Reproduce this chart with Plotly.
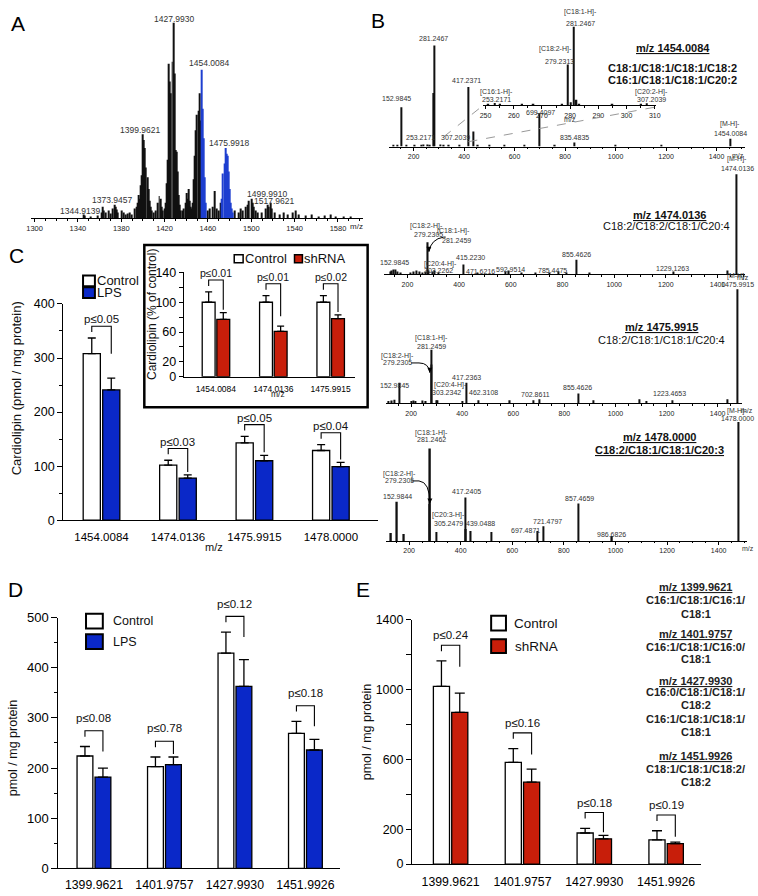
import plotly.graph_objects as go

W, H = 758, 896
FONT = "Liberation Sans, Arial, Helvetica, sans-serif"
BLUE = "#0a28c8"
BLUE_A = "#1e3fd0"
RED = "#c81e0a"

# ======================= DATA =======================
# Panel A: full-scan spectrum (relative intensity, % of base peak)
A_black_mz = [1344.9, 1346.0, 1352.0, 1358.0, 1362.0, 1363.0, 1364.0, 1366.0, 1368.0, 1370.0,
              1372.0, 1373.95, 1375.0, 1376.0, 1377.0, 1380.0, 1382.0, 1384.0, 1386.0, 1388.0,
              1390.0, 1392.0, 1393.9, 1394.9, 1395.9, 1396.9, 1397.9, 1398.9, 1399.96, 1400.96,
              1401.97, 1402.97, 1403.97, 1404.97, 1405.97, 1407.0, 1408.0, 1410.0, 1412.0, 1414.0,
              1415.0, 1416.0, 1417.0, 1418.0, 1419.9, 1420.9, 1421.9, 1422.9, 1423.96, 1424.96,
              1425.97, 1426.98, 1427.99, 1428.99, 1429.99, 1430.99, 1431.99, 1433.0, 1434.0, 1435.0,
              1437.0, 1438.0, 1439.0, 1440.0, 1441.0, 1442.0, 1443.0, 1444.0, 1445.0, 1446.0,
              1447.0, 1448.0, 1449.0, 1450.0, 1451.0, 1452.0, 1453.0, 1460.0, 1462.0, 1464.0,
              1466.5, 1468.0, 1470.0, 1472.0, 1485.0, 1488.0, 1490.0, 1492.0, 1495.0, 1497.0,
              1498.0, 1499.99, 1501.0, 1502.0, 1504.0, 1506.0, 1510.0, 1513.0, 1515.0, 1516.0,
              1517.96, 1519.0, 1522.0, 1526.0, 1530.0, 1534.0, 1538.0, 1541.0, 1544.0, 1550.0,
              1556.0, 1562.0, 1568.0, 1573.0, 1578.0, 1585.0, 1592.0]
A_black_int = [2, 1.5, 1, 1.5, 3, 6, 4, 3, 4, 2.5,
               5, 7, 6, 4.5, 3, 4, 3, 2, 2.5, 3,
               2, 5, 6, 8, 12, 10, 17, 22, 43, 40,
               36, 26, 21, 15, 9, 6, 4, 3, 4, 8,
               11.5, 10, 6, 4, 5, 8, 18, 30, 79, 70,
               64, 80, 100, 74, 35, 34, 24, 12, 7, 4,
               4, 5, 8, 13, 10, 15, 9, 6, 5, 8,
               20, 32, 45, 53, 55, 64, 50, 4, 5, 6,
               14, 5, 4, 8, 4, 3, 5, 4, 6, 7,
               9, 10, 8, 6, 4, 3, 3, 5, 7, 6,
               8, 5, 3, 2, 3, 2, 3, 4, 2, 1.5,
               2, 1, 1.5, 2, 1, 1, 1]
A_blue_mz = [1454.01, 1455.0, 1456.0, 1457.0, 1458.0, 1473.0, 1474.0, 1475.0, 1475.99, 1477.0,
             1478.0, 1479.0, 1480.0, 1481.0, 1482.0, 1483.0]
A_blue_int = [76, 56, 41, 21, 8, 10, 23, 28, 36, 33,
              32, 24, 15, 8, 5, 3]
A_ticks = [1300, 1340, 1380, 1420, 1460, 1500, 1540, 1580]

# Panel B: MS/MS spectra (relative intensity, %)
B_ticks = [200, 400, 600, 800, 1000, 1200, 1400]
B1_mz = [120, 135, 152.98, 170, 205, 230, 240, 253.22, 265, 279.23,
         281.25, 307.20, 320, 340, 380, 417.24, 436.8, 455, 500, 560,
         640, 699.41, 760, 835.48, 1000, 1180, 1454.01]
B1_int = [1, 1.5, 39, 1, 1, 1.5, 2, 2, 1.5, 53,
          100, 2, 1.5, 1, 1, 59, 15, 1, 1, 1,
          1, 33, 1, 4, 1, 1.5, 7.8]
B1i_mz = [251.0, 253.22, 255.2, 263.0, 267.0, 277.2, 279.23, 280.23, 281.25, 282.25,
          283.26, 295.0, 305.2, 307.20]
B1i_int = [1, 3, 1.5, 1, 1, 1.5, 52, 4, 100, 7,
           2, 1, 1, 2.5]
B1i_ticks = [250, 260, 270, 280, 290, 300, 310]
B2_mz = [135, 140, 145, 152.98, 160, 175, 212, 225, 235, 245,
         258, 271, 279.23, 281.25, 298, 303.23, 320, 415.22, 471.62, 580,
         592.95, 643, 696, 748, 785.45, 815, 855.46, 906, 1229.13, 1437,
         1474.01]
B2_int = [3, 4, 5, 5, 3, 2, 2, 3, 4, 3,
          2, 3, 32, 4, 3, 4, 2, 10, 2, 3,
          4, 2, 2, 2, 3, 2, 14.7, 2, 3, 4,
          100]
B3_mz = [112, 125, 134, 152.98, 200, 210, 218, 243, 258, 279.23,
         281.25, 300, 303.23, 400, 417.24, 462.31, 587, 680, 702.86, 855.46,
         914, 1094, 1120, 1223.47, 1437, 1475.99]
B3_int = [2, 2.5, 3, 18, 2, 2.5, 2, 2.5, 2, 34,
          47, 2.6, 2.6, 2, 18, 2.6, 2.6, 2.6, 3.4, 8.6,
          2.6, 3.4, 2, 2.6, 3.4, 100]
B4_mz = [130, 152.98, 180, 279.23, 281.25, 305.25, 417.24, 420.3, 439.05, 520,
         697.49, 721.48, 857.47, 986.68, 1478.0]
B4_int = [6.6, 33, 5.8, 31, 77.7, 7.4, 36.4, 10, 8.3, 7.4,
          8.3, 12.4, 31.4, 4.1, 100]

# Panel C: cardiolipin (pmol / mg protein), Control vs LPS
C_cats = ["1454.0084", "1474.0136", "1475.9915", "1478.0000"]
C_ctrl = [308, 102, 143, 129]
C_ctrl_sem = [29, 9, 12, 11]
C_lps = [241, 78, 110, 99]
C_lps_sem = [22, 6, 10, 8]
C_p = ["p≤0.05", "p≤0.03", "p≤0.05", "p≤0.04"]

# Panel C inset: % of control, Control vs shRNA
Ci_cats = ["1454.0084", "1474.0136", "1475.9915"]
Ci_ctrl = [100, 100, 100]
Ci_ctrl_sem = [14, 9, 9]
Ci_sh = [77, 61, 78]
Ci_sh_sem = [9, 7, 5]
Ci_p = ["p≤0.01", "p≤0.01", "p≤0.02"]

# Panel D: Control vs LPS
D_cats = ["1399.9621", "1401.9757", "1427.9930", "1451.9926"]
D_ctrl = [224, 203, 429, 269]
D_ctrl_sem = [19, 19, 42, 24]
D_lps = [182, 207, 363, 236]
D_lps_sem = [18, 15, 53, 21]
D_p = ["p≤0.08", "p≤0.78", "p≤0.12", "p≤0.18"]

# Panel E: Control vs shRNA
E_cats = ["1399.9621", "1401.9757", "1427.9930", "1451.9926"]
E_ctrl = [1017, 582, 178, 139]
E_ctrl_sem = [146, 79, 27, 52]
E_sh = [869, 469, 145, 117]
E_sh_sem = [110, 75, 20, 9]
E_p = ["p≤0.24", "p≤0.16", "p≤0.18", "p≤0.19"]

# ======================= HELPERS =======================
BARGAP, GROUPGAP = 0.49, 0.12
layout = dict(width=W, height=H, margin=dict(l=0, r=0, t=0, b=0),
              paper_bgcolor="white", plot_bgcolor="white", showlegend=False,
              barmode="group", bargap=BARGAP, bargroupgap=GROUPGAP,
              font=dict(family=FONT, color="black"))
traces, annotations, shapes = [], [], []


def xd(a, b):
    return [a / W, b / W]


def yd(top, bot):
    return [1 - bot / H, 1 - top / H]


def px(x):
    return x / W


def py(y):
    return 1 - y / H


def text(x, y, s, size, bold=False, xanchor="center", angle=0, color="#111"):
    if bold:
        s = "<b>" + s + "</b>"
    annotations.append(dict(x=px(x), y=py(y), xref="paper", yref="paper", text=s,
                            showarrow=False, xanchor=xanchor, yanchor="middle",
                            textangle=angle, borderpad=0,
                            font=dict(size=size, family=FONT, color=color)))


def sfx(n):
    return "" if n == 1 else str(n)


def spec_axes(n, xdom, ydom, xr, yr, tickvals, tsize, minor):
    s = sfx(n)
    layout["xaxis" + s] = dict(domain=xd(*xdom), range=xr, anchor="y" + s, showline=True,
                               linecolor="black", linewidth=1, ticks="outside", ticklen=3,
                               tickwidth=1, tickcolor="black", tickmode="array", tickvals=tickvals,
                               tickfont=dict(size=tsize, color="#222"), showgrid=False,
                               zeroline=False, fixedrange=True,
                               minor=dict(ticks="outside", dtick=minor, tick0=0, ticklen=1.5,
                                          tickcolor="black", showgrid=False))
    layout["yaxis" + s] = dict(domain=yd(*ydom), range=yr, anchor="x" + s, visible=False,
                               fixedrange=True)


def spec_trace(n, mz, inten, width, color):
    s = sfx(n)
    traces.append(go.Bar(x=mz, y=inten, width=width, marker=dict(color=color, line=dict(width=0)),
                         xaxis="x" + s, yaxis="y" + s, hoverinfo="skip", showlegend=False))


AX = {}


def bar_axes(n, xdom, ydom, xr, yr, xfont, yfont, standoff, ytickvals=None, yticktext=None,
             dtick=None, minor=None, ticklen=5):
    s = str(n)
    AX[n] = (xdom, ydom, xr, yr)
    layout["xaxis" + s] = dict(domain=xd(*xdom), range=xr, type="category", anchor="y" + s,
                               showline=True, linecolor="black", linewidth=1.2, ticks="",
                               tickfont=dict(size=xfont, color="black"),
                               ticklabelstandoff=standoff, showgrid=False, zeroline=False,
                               fixedrange=True)
    ya = dict(domain=yd(*ydom), range=yr, anchor="x" + s, showline=True, linecolor="black",
              linewidth=1.2, ticks="outside", ticklen=ticklen, tickwidth=1.2, tickcolor="black",
              tickfont=dict(size=yfont, color="black"), showgrid=False, zeroline=False,
              fixedrange=True)
    if ytickvals is not None:
        ya.update(tickmode="array", tickvals=ytickvals, ticktext=yticktext)
    else:
        ya.update(tickmode="linear", tick0=0, dtick=dtick)
    if minor:
        ya["minor"] = dict(ticks="outside", dtick=minor, tick0=0, ticklen=3, tickwidth=1.2,
                           tickcolor="black", showgrid=False)
    layout["yaxis" + s] = ya


def group_bars(n, cats, v1, e1, v2, e2, color2, capw):
    s = str(n)
    for vals, errs, col in ((v1, e1, "white"), (v2, e2, color2)):
        traces.append(go.Bar(x=cats, y=vals,
                             error_y=dict(type="data", array=errs, arrayminus=[0] * len(errs),
                                          symmetric=False, color="black", thickness=1.3,
                                          width=capw),
                             marker=dict(color=col, line=dict(color="black", width=1.3)),
                             xaxis="x" + s, yaxis="y" + s, hoverinfo="skip", showlegend=False))


def brackets(n, v1, e1, v2, e2, labels, pad_top, leg_l, leg_r, tsize, toff):
    (x0, x1), (ytop, ybot), (xr0, xr1), (yr0, yr1) = AX[n]
    cx = lambda c: x0 + (c - xr0) / (xr1 - xr0) * (x1 - x0)
    cy = lambda v: ybot - (v - yr0) / (yr1 - yr0) * (ybot - ytop)
    half = (1 - BARGAP) / 4
    for i in range(len(v1)):
        yc = cy(v1[i] + e1[i])
        yt = cy(v2[i] + e2[i])
        top = min(yc, yt) - pad_top
        xl, xr = cx(i - half), cx(i + half)
        yl = top + leg_l
        yr_ = top + max(leg_l, min(leg_r, yt - top - 3))
        path = "M {:.5f},{:.5f} L {:.5f},{:.5f} L {:.5f},{:.5f} L {:.5f},{:.5f}".format(
            px(xl), py(yl), px(xl), py(top), px(xr), py(top), px(xr), py(yr_))
        shapes.append(dict(type="path", path=path, xref="paper", yref="paper",
                           line=dict(color="black", width=1.1)))
        text((xl + xr) / 2, top - toff, labels[i], tsize)


def legend_box(x0, y0, x1, y1, color, lw=2):
    shapes.append(dict(type="rect", xref="paper", yref="paper", x0=px(x0), x1=px(x1),
                       y0=py(y1), y1=py(y0), fillcolor=color,
                       line=dict(color="black", width=lw)))


def curved_arrow(x0, y0, xm, ym, cxp, cyp, x1, y1):
    path = "M {:.5f},{:.5f} L {:.5f},{:.5f} Q {:.5f},{:.5f} {:.5f},{:.5f}".format(
        px(x0), py(y0), px(xm), py(ym), px(cxp), py(cyp), px(x1), py(y1))
    shapes.append(dict(type="path", path=path, xref="paper", yref="paper",
                       line=dict(color="black", width=1)))
    annotations.append(dict(x=px(x1), y=py(y1), xref="paper", yref="paper", text="",
                            showarrow=True, ax=0, ay=-5, arrowhead=2, arrowsize=1,
                            arrowwidth=1, arrowcolor="black"))

# ======================= PANEL A =======================
spec_axes(1, (27, 363), (10, 215), [1296.4, 1602.8], [0, 103], A_ticks, 7.5, 10)
traces.append(go.Bar(x=A_black_mz + A_blue_mz, y=A_black_int + A_blue_int, width=0.9,
                     marker=dict(color=["#111"] * len(A_black_mz) + [BLUE_A] * len(A_blue_mz),
                                 line=dict(width=0)),
                     xaxis="x", yaxis="y", hoverinfo="skip", showlegend=False))
for s, x, y in [("1427.9930", 172, 12), ("1454.0084", 207, 57), ("1399.9621", 138, 125),
                ("1475.9918", 228, 138), ("1373.9457", 109, 196), ("1344.9139", 77, 207),
                ("1499.9910", 266, 190), ("1517.9621", 273, 197)]:
    text(x, y, s, 8.5, color="#333")
text(357, 223, "m/z", 8, color="#222")

# ======================= PANEL B =======================
spec_axes(2, (390, 750), (10, 142), [104.1, 1513.1], [0, 128.2], B_ticks, 7, 50)
spec_axes(3, (484.5, 660), (10, 100), [249, 310.5], [0, 112.5], B1i_ticks, 7, 5)
spec_axes(4, (385, 750), (160, 272), [110.9, 1506.7], [0, 109.8], B_ticks, 7, 50)
spec_axes(5, (387, 747), (280, 403), [103.3, 1495.9], [0, 106], B_ticks, 7, 50)
spec_axes(6, (387, 752), (410, 543), [111.9, 1510.3], [0, 109.9], B_ticks, 7, 50)
spec_trace(2, B1_mz, B1_int, 5, "#111")
spec_trace(3, B1i_mz, B1i_int, 0.55, "#111")
spec_trace(4, B2_mz, B2_int, 4.5, "#111")
spec_trace(5, B3_mz, B3_int, 4.5, "#111")
spec_trace(6, B4_mz, B4_int, 5.5, "#111")

B_labels = [
    ("[C18:1-H]-", 583, 5), ("281.2467", 583, 17), ("[C18:2-H]-", 558, 43), ("279.2313", 562, 55),
    ("281.2467", 435, 32), ("417.2371", 468, 75), ("152.9845", 397, 93),
    ("[C16:1-H]-", 498, 86), ("253.2171", 498, 94), ("[C20:2-H]-", 655, 86), ("307.2039", 655, 94),
    ("253.2171", 422, 133), ("307.2039", 457, 133), ("699.4097", 543, 107), ("835.4835", 577, 133),
    ("[M-H]-", 735, 119), ("1454.0084", 735, 129), ("m/z", 573, 114), ("m/z", 743, 151),
    # B2
    ("[M-H]-", 742, 155), ("1474.0136", 742, 164), ("[C18:2-H]-", 428, 223), ("279.2305", 430, 231),
    ("[C18:1-H]-", 455, 228), ("281.2459", 458, 237), ("152.9845", 395, 260),
    ("[C20:4-H]-", 442, 261), ("303.2262", 440, 268), ("415.2230", 472, 255),
    ("471.6216", 482, 269), ("592.9514", 513, 267), ("785.4475", 555, 268),
    ("855.4626", 579, 252), ("1229.1263", 677, 266), ("m/z", 748, 275),
    # B3
    ("[M-H]-", 742, 274), ("1475.9915", 742, 282), ("[C18:1-H]-", 433, 337), ("281.2459", 433, 345),
    ("[C18:2-H]-", 398, 355), ("279.2305", 398, 362), ("152.9845", 395, 385),
    ("417.2363", 468, 377), ("[C20:4-H]-", 452, 384), ("303.2342", 448, 392),
    ("462.3108", 485, 392), ("702.8611", 538, 394), ("855.4626", 580, 387),
    ("1223.4653", 673, 393), ("m/z", 752, 410),
    # B4
    ("[M-H]-", 742, 411), ("1478.0000", 742, 419), ("[C18:1-H]-", 433, 433), ("281.2462", 433, 440),
    ("[C18:2-H]-", 400, 475), ("279.2305", 400, 482), ("152.9844", 398, 498),
    ("417.2405", 468, 493), ("[C20:3-H]-", 450, 517), ("305.2479", 450, 525),
    ("439.0488", 482, 525), ("697.4871", 528, 532), ("721.4797", 550, 523),
    ("857.4659", 582, 500), ("986.6826", 615, 536), ("m/z", 753, 551),
]
for s, x, y in B_labels:
    text(x, y, s, 7, color="#333")

text(677, 42, "<u>m/z 1454.0084</u>", 11, bold=True)
text(677, 62, "C18:1/C18:1/C18:1/C18:2", 11, bold=True)
text(677, 74, "C16:1/C18:1/C18:1/C20:2", 11, bold=True)
text(673, 212, "<u>m/z 1474.0136</u>", 11, bold=True)
text(670, 223, "C18:2/C18:2/C18:1/C20:4", 11)
text(665, 325, "<u>m/z 1475.9915</u>", 11, bold=True)
text(665, 339, "C18:2/C18:1/C18:1/C20:4", 11)
text(663, 437, "<u>m/z 1478.0000</u>", 11, bold=True)
text(663, 451, "<u>C18:2/C18:1/C18:1/C20:3</u>", 11, bold=True)

# dashed zoom lines for the B1 inset
shapes.append(dict(type="line", xref="paper", yref="paper", x0=px(445), y0=py(132), x1=px(485),
                   y1=py(100), line=dict(color="#999", width=1, dash="dash")))
shapes.append(dict(type="line", xref="paper", yref="paper", x0=px(470), y0=py(137), x1=px(658),
                   y1=py(102), line=dict(color="#999", width=1, dash="dash")))
# curved arrows
curved_arrow(447, 234, 445, 234, 432, 236, 430, 249)
curved_arrow(412, 362, 420, 362, 430, 362, 431, 372)
curved_arrow(412, 482, 420, 482, 431, 483, 431, 505)

# ======================= PANEL C =======================
bar_axes(7, (60, 378), (302, 522), [-0.5, 3.61], [0, 400], 11.5, 12.5, 6, dtick=100, minor=50)
group_bars(7, C_cats, C_ctrl, C_ctrl_sem, C_lps, C_lps_sem, BLUE, 4)
brackets(7, C_ctrl, C_ctrl_sem, C_lps, C_lps_sem, C_p, 12, 6, 28, 11.5, 7)
text(213, 549, "m/z", 11)
text(13, 388, "Cardiolipin (pmol / mg protein)", 13, angle=-90)
legend_box(80, 273, 92, 284, "white")
legend_box(80, 285, 92, 296, BLUE)
text(93, 278, "Control", 13, xanchor="left")
text(93, 290, "LPS", 13, xanchor="left")

# inset
shapes.append(dict(type="rect", xref="paper", yref="paper", x0=px(142), x1=px(368), y0=py(407),
                   y1=py(242), line=dict(color="black", width=2.5), fillcolor="rgba(0,0,0,0)"))
bar_axes(8, (182, 355), (270, 376), [-0.56, 2.42], [0, 140], 8.5, 12.5, 4,
         ytickvals=[0, 20, 40, 60, 80, 100, 120, 140],
         yticktext=["0", "20", "", "60", "", "100", "", "140"], ticklen=4)
group_bars(8, Ci_cats, Ci_ctrl, Ci_ctrl_sem, Ci_sh, Ci_sh_sem, RED, 3.5)
brackets(8, Ci_ctrl, Ci_ctrl_sem, Ci_sh, Ci_sh_sem, Ci_p, 12, 6, 33, 10.5, 7)
text(277, 394, "m/z", 8.5)
text(150, 313, "Cardiolipin (% of control)", 12, angle=-90)
legend_box(233, 252, 242, 260, "white", 1.5)
legend_box(294, 252, 302, 260, RED, 1.5)
text(243, 256, "Control", 13, xanchor="left")
text(303, 256, "shRNA", 13, xanchor="left")

# ======================= PANEL D =======================
bar_axes(9, (55, 340), (621, 876), [-0.505, 3.49], [0, 500], 12.3, 13, 5, dtick=100, minor=50,
         ticklen=6)
group_bars(9, D_cats, D_ctrl, D_ctrl_sem, D_lps, D_lps_sem, BLUE, 5)
brackets(9, D_ctrl, D_ctrl_sem, D_lps, D_lps_sem, D_p, 16, 6, 21, 11.5, 13)
text(10, 753, "pmol / mg protein", 12.5, angle=-90)
legend_box(83, 617, 100, 632, "white")
legend_box(83, 638, 100, 653, BLUE)
text(109, 624, "Control", 12.5, xanchor="left")
text(109, 646, "LPS", 12.5, xanchor="left")

# ======================= PANEL E =======================
bar_axes(10, (413, 705), (623, 871.7), [-0.536, 3.48], [0, 1400], 12.3, 12.5, 6,
         ytickvals=[0, 200, 400, 600, 800, 1000, 1200, 1400],
         yticktext=["0", "200", "", "600", "", "1000", "", "1400"])
group_bars(10, E_cats, E_ctrl, E_ctrl_sem, E_sh, E_sh_sem, RED, 5)
brackets(10, E_ctrl, E_ctrl_sem, E_sh, E_sh_sem, E_p, 16, 6, 22, 11.5, 10)
text(367, 737, "pmol / mg protein", 12.5, angle=-90)
legend_box(493, 619, 508, 634, "white")
legend_box(493, 643, 508, 657, RED)
text(515, 627, "Control", 13.5, xanchor="left")
text(516, 650, "shRNA", 13.5, xanchor="left")

E_species = [("<u>m/z 1399.9621</u>", 590), ("C16:1/C18:1/C16:1/", 603), ("C18:1", 617),
             ("<u>m/z 1401.9757</u>", 638), ("C16:1/C18:1/C16:0/", 651), ("C18:1", 663),
             ("<u>m/z 1427.9930</u>", 685), ("C16:0/C18:1/C18:1/", 697), ("C18:2", 710),
             ("C16:1/C18:1/C18:1/", 724), ("C18:1", 737),
             ("<u>m/z 1451.9926</u>", 762), ("C18:1/C18:1/C18:2/", 775), ("C18:2", 788)]
for s, y in E_species:
    text(700, y, s, 11, bold=True, color="#222")

# panel letters
for s, x, y in [("A", 14, 17), ("B", 378, 14), ("C", 13, 253), ("D", 12, 592), ("E", 363, 592)]:
    text(x, y, s, 21, color="black")

layout["annotations"] = annotations
layout["shapes"] = shapes
fig = go.Figure(data=traces, layout=layout)
fig.write_html("out.html", config={"displayModeBar": False},
               post_script="document.documentElement.style.margin='0';"
                           "document.body.style.margin='0';document.body.style.padding='0';"
                           "document.body.style.overflow='hidden';")
